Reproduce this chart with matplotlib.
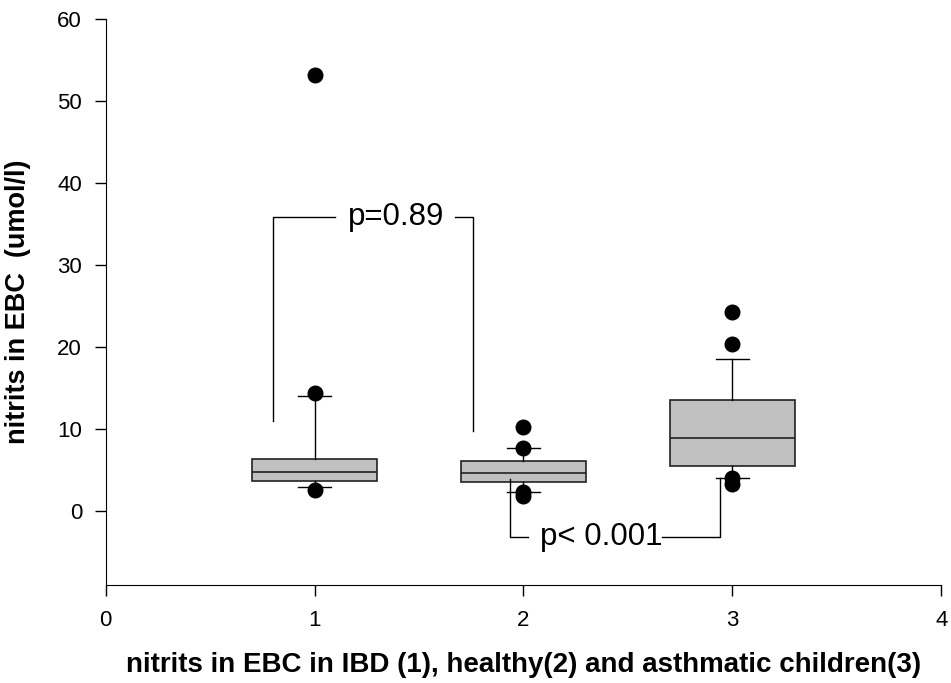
import matplotlib
matplotlib.use("Agg")
import matplotlib.pyplot as plt

plt.rcParams["font.family"] = ["Liberation Sans", "DejaVu Sans"]

# ── Box statistics (umol/l) ──────────────────────────────────────────────────
groups    = [1, 2, 3]
q1        = [3.66, 3.61, 5.56]
medians   = [4.83, 4.63, 8.86]
q3        = [6.34, 6.17, 13.54]
whis_lo   = [2.96, 2.39, 4.06]
whis_hi   = [13.98, 7.72, 18.54]
outliers  = [[53.2, 14.45, 2.6],
             [10.3, 7.7, 2.3, 1.9],
             [24.3, 20.4, 4.0, 3.3]]

# significance brackets: (x_left, y_left_end, x_right, y_right_end, y_bar, label, text_x)
p_upper = (0.80, 11.0, 1.76, 9.8, 35.8, "p=0.89", 1.39)
p_lower = (1.935, 3.9, 2.94, 4.0, -3.1, "p< 0.001", 2.37)

stats = [dict(med=m, q1=a, q3=b, whislo=lo, whishi=hi, fliers=f)
         for m, a, b, lo, hi, f in zip(medians, q1, q3, whis_lo, whis_hi, outliers)]

fig = plt.figure(figsize=(9.51, 6.83), dpi=100)
ax = fig.add_axes([0.1111, 0.1435, 0.8787, 0.8287])

ax.bxp(stats, positions=groups, widths=0.6, patch_artist=True,
       boxprops=dict(facecolor="#c0c0c0", edgecolor="#222222", lw=1.2),
       medianprops=dict(color="#222222", lw=1.2),
       whiskerprops=dict(color="black", lw=1.0),
       capprops=dict(color="black", lw=1.0),
       capwidths=0.16,
       flierprops=dict(marker="o", markerfacecolor="black",
                       markeredgecolor="black", markersize=10.5))

# ── significance brackets ─────────────────────────────────────────────────────
def bracket(spec, gap_l, gap_r):
    xl, yl, xr, yr, ybar, lab, tx = spec
    ax.plot([xl, xl, gap_l], [yl, ybar, ybar], color="black", lw=1.0)
    ax.plot([gap_r, xr, xr], [ybar, ybar, yr], color="black", lw=1.0)
    ax.text(tx, ybar, lab, ha="center", va="center", fontsize=22.5)

bracket(p_upper, 1.098, 1.672)
bracket(p_lower, 2.022, 2.663)

ax.set_xlim(0, 4)
ax.set_ylim(-9, 60)
ax.set_xticks([0, 1, 2, 3, 4])
ax.set_yticks([0, 10, 20, 30, 40, 50, 60])
ax.set_xticklabels(["0", "1", "2", "3", "4"])
ax.tick_params(labelsize=16, length=8, width=1.0, direction="out")
ax.tick_params(axis="x", pad=10)
ax.tick_params(axis="y", pad=9)
ax.spines[["top", "right"]].set_visible(False)

ax.set_xlabel("nitrits in EBC in IBD (1), healthy(2) and asthmatic children(3)",
              fontsize=20, fontweight="bold", labelpad=15)
ax.set_ylabel("nitrits in EBC  (umol/l)", fontsize=19.5, fontweight="bold", labelpad=19)

fig.savefig("out.png", dpi=100)
